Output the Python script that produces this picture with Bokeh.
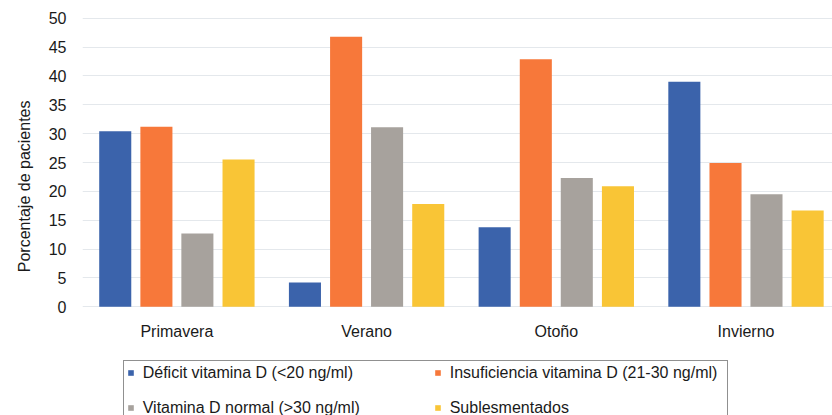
from bokeh.plotting import figure
from bokeh.models import (ColumnDataSource, FixedTicker, Legend, LegendItem, Title, Range1d)
from bokeh.core.properties import value
from bokeh.transform import dodge
from bokeh.embed import file_html
from bokeh.resources import INLINE

# ---- data ----
seasons = ["Primavera", "Verano", "Otoño", "Invierno"]
deficit = [30.4, 4.2, 13.8, 39.0]
insuficiencia = [31.2, 46.8, 42.9, 24.9]
normal = [12.7, 31.1, 22.3, 19.5]
suplementados = [25.5, 17.8, 20.9, 16.7]
series_names = [
    "Déficit vitamina D (<20 ng/ml)",
    "Insuficiencia vitamina D (21-30 ng/ml)",
    "Vitamina D normal (>30 ng/ml)",
    "Sublesmentados",
]
y_ticks = [0, 5, 10, 15, 20, 25, 30, 35, 40, 45, 50]
y_title = "Porcentaje de pacientes"

colors = ["#3b63ab", "#f7783a", "#a7a29d", "#f9c536"]
offsets = [-0.325, -0.108, 0.108, 0.325]
FONT = "Liberation Sans"
TXT = "#1a1a1a"
CAT_LABEL_Y = -4.35   # category labels sit just below the zero line

src = ColumnDataSource(dict(
    x=list(range(len(seasons))),
    season=seasons,
    deficit=deficit, insuficiencia=insuficiencia,
    normal=normal, suplementados=suplementados,
))

p = figure(width=832, height=415, output_backend="svg", toolbar_location=None,
           x_range=Range1d(-0.4976, 3.456), y_range=Range1d(-18.84, 50.3),
           min_border_left=82, min_border_right=0, min_border_top=16, min_border_bottom=0)
p.outline_line_color = None
p.background_fill_color = "white"
p.border_fill_color = "white"

renderers = []
for col, c, off in zip(["deficit", "insuficiencia", "normal", "suplementados"], colors, offsets):
    r = p.vbar(x=dodge("x", off), top=col, bottom=0, width=0.169, source=src,
               fill_color=c, line_color=None)
    renderers.append(r)

# category labels
p.text(x="x", y=CAT_LABEL_Y, text="season", source=src,
       text_align="center", text_baseline="middle",
       text_font=value(FONT), text_font_size="16px", text_color=TXT)

# axes
p.xaxis.visible = False
p.yaxis.ticker = FixedTicker(ticks=y_ticks)
ax = p.yaxis[0]
ax.axis_line_color = None
ax.major_tick_line_color = None
ax.minor_tick_line_color = None
ax.major_tick_out = 0
ax.major_tick_in = 0
ax.major_label_text_font = FONT
ax.major_label_text_font_size = "16px"
ax.major_label_text_color = TXT
ax.major_label_standoff = 16

p.xgrid.grid_line_color = None
p.ygrid.grid_line_color = "#e4e8ec"
p.ygrid.grid_line_width = 1.2

# y-axis title (left-side title, anchored from the bottom of the frame)
p.add_layout(Title(text=y_title, align="left", offset=143.3, standoff=26,
                   text_font=FONT, text_font_size="16px", text_font_style="normal",
                   text_color=TXT), "left")

# legend
items = [
    LegendItem(label=series_names[0], renderers=[renderers[0]]),
    LegendItem(label=series_names[2], renderers=[renderers[2]]),
    LegendItem(label=series_names[1], renderers=[renderers[1]]),
    LegendItem(label=series_names[3], renderers=[renderers[3]]),
]
legend = Legend(items=items, nrows=2, location=(40.7, -5.7), margin=0,
                glyph_width=7, glyph_height=7, label_standoff=9,
                label_width=274, label_height=18, spacing=17, padding=3,
                label_text_font=FONT, label_text_font_size="16px", label_text_color=TXT,
                border_line_color="#222222", border_line_width=1,
                background_fill_color="white", background_fill_alpha=1.0)
p.add_layout(legend)

open("out.html", "w").write(file_html(p, INLINE))
